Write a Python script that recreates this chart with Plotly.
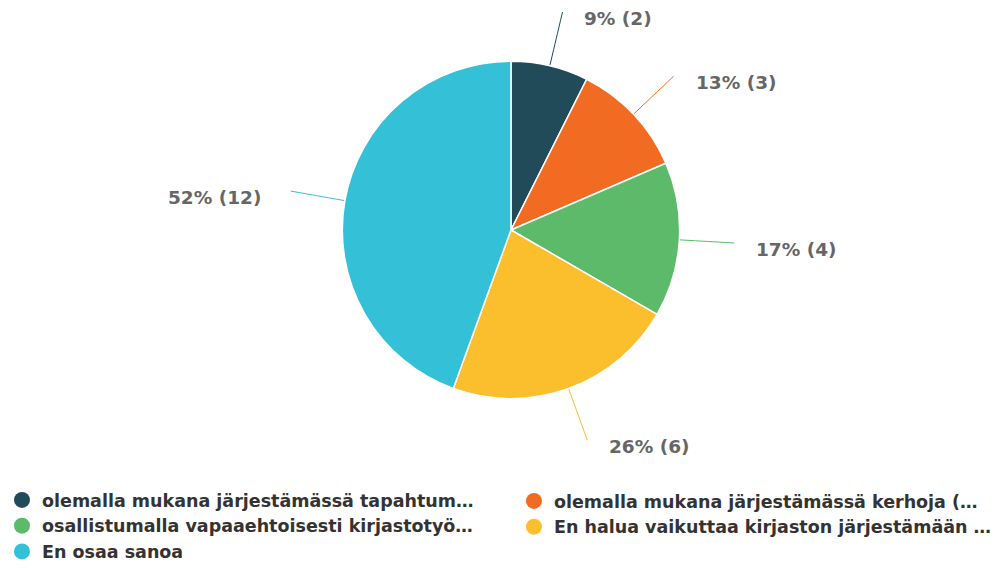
import math
import plotly.graph_objects as go

categories = [
    "olemalla mukana järjestämässä tapahtum…",
    "olemalla mukana järjestämässä kerhoja (…",
    "osallistumalla vapaaehtoisesti kirjastotyö…",
    "En halua vaikuttaa kirjaston järjestämään …",
    "En osaa sanoa",
]
counts = [2, 3, 4, 6, 12]
percents = [9, 13, 17, 26, 52]
colors = ["#224b5a", "#f26b22", "#5cba6a", "#fbbe2d", "#34c1d7"]
legend_column = ["legend", "legend2", "legend", "legend2", "legend"]

W, H = 997, 570
CX, CY, R = 512, 230, 169
FONT = "DejaVu Sans, Verdana, sans-serif"

fig = go.Figure()

fig.add_trace(go.Pie(
    labels=categories,
    values=counts,
    sort=False,
    direction="clockwise",
    rotation=0,
    textinfo="none",
    hoverinfo="skip",
    showlegend=False,
    marker=dict(colors=colors, line=dict(color="white", width=1.5)),
    domain=dict(x=[(CX - R) / W, (CX + R) / W], y=[1 - (CY + R) / H, 1 - (CY - R) / H]),
))

total = sum(counts)
cum = 0
for cat, c, p, col in zip(categories, counts, percents, colors):
    mid = (cum + c / 2) / total * 2 * math.pi
    cum += c
    s, co = math.sin(mid), math.cos(mid)
    pts = [R, R + 28, R + 55]
    xs = [CX + r * s for r in pts]
    ys = [CY - r * co for r in pts]
    fig.add_trace(go.Scatter(
        x=xs, y=ys, mode="lines", line=dict(color=col, width=1, shape="spline"),
        showlegend=False, hoverinfo="skip",
    ))
    right = s >= 0
    fig.add_annotation(
        x=xs[-1] + (20 if right else -28), y=ys[-1] + 6,
        text=f"{p}% ({c})", showarrow=False,
        xanchor="left" if right else "right", yanchor="middle",
        font=dict(family=FONT, size=18.5, color="#666666", weight="bold"),
    )

for cat, col, lg in zip(categories, colors, legend_column):
    fig.add_trace(go.Scatter(
        x=[None], y=[None], mode="markers", name=cat, legend=lg,
        marker=dict(color=col, size=16, symbol="circle"),
        hoverinfo="skip",
    ))

legend_font = dict(family=FONT, size=17.5, color="#333333", weight="bold")
fig.update_layout(
    width=W, height=H,
    margin=dict(l=0, r=0, t=0, b=0),
    paper_bgcolor="white", plot_bgcolor="white",
    xaxis=dict(range=[0, W], visible=False, fixedrange=True),
    yaxis=dict(range=[H, 0], visible=False, fixedrange=True),
    legend=dict(
        orientation="v", x=2 / W, y=0, xanchor="left", yanchor="bottom",
        font=legend_font, itemclick=False, itemdoubleclick=False,
    ),
    legend2=dict(
        orientation="v", x=515 / W, y=1 - 483 / H, xanchor="left", yanchor="top",
        font=legend_font, itemclick=False, itemdoubleclick=False,
    ),
    showlegend=True,
)

fig.write_html("out.html", post_script="document.body.style.margin='0';",
               config={"displayModeBar": False})
